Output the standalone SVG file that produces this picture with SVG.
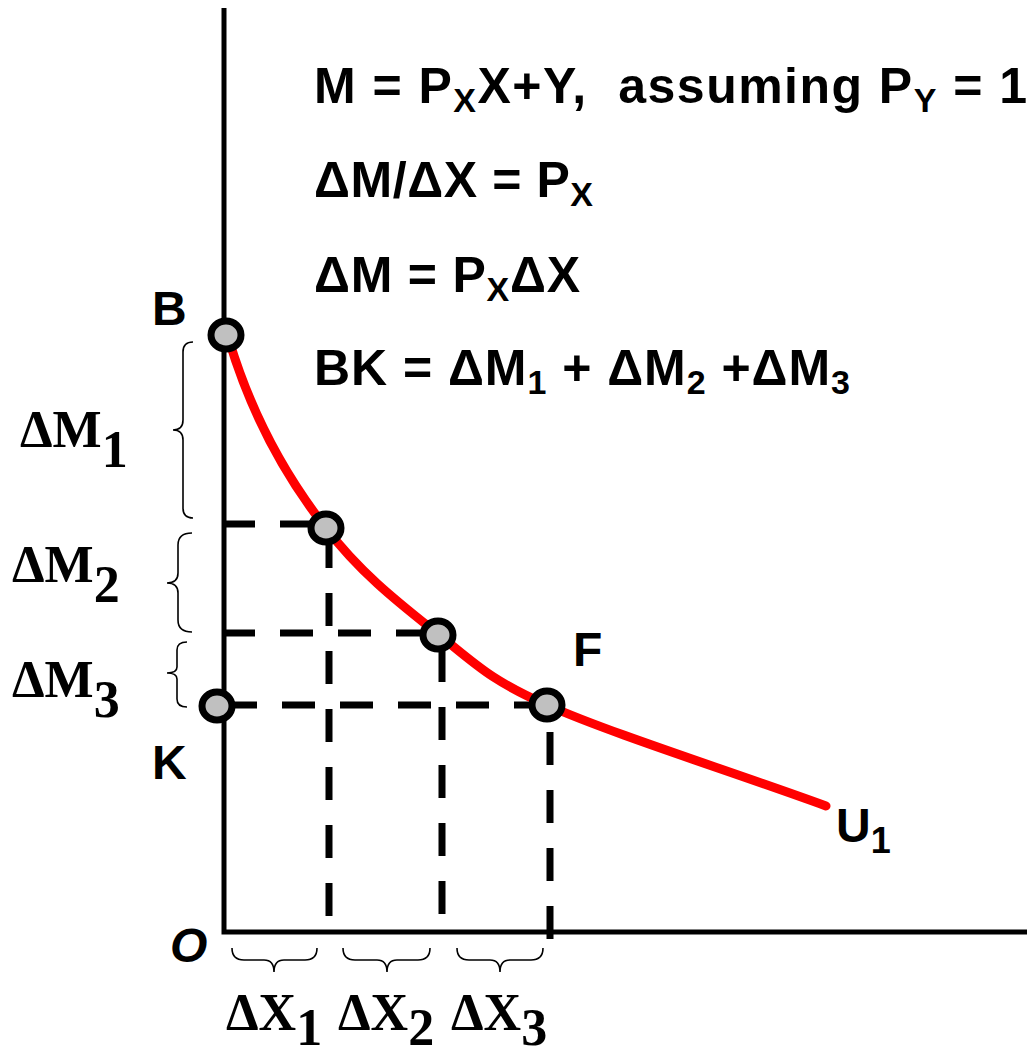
<svg xmlns="http://www.w3.org/2000/svg" width="1027" height="1053" viewBox="0 0 1027 1053">
<style>
.eq{font-family:"Liberation Sans Narrow","Arial Narrow","Liberation Sans",sans-serif;font-weight:bold;font-size:50px;fill:#000;white-space:pre}
.lbl{font-family:"Liberation Sans",Arial,sans-serif;font-weight:bold;font-size:48px;fill:#000}
.tm{font-family:"Liberation Serif","Times New Roman",serif;font-weight:bold;font-size:52px;fill:#000}
.axis{stroke:#000;stroke-width:5;fill:none}
.dash{stroke:#000;stroke-width:7;fill:none;stroke-dasharray:33 25}
.brace{stroke:#000;stroke-width:1.6;fill:none}
.pt{fill:#c0c0c0;stroke:#000;stroke-width:7}
.curve{stroke:#ff0000;stroke-width:9;fill:none;stroke-linecap:round}
</style>
<rect width="1027" height="1053" fill="#fff"/>
<g id="axes">
<path class="axis" d="M224,8 V932 H1027"/>
</g>
<g id="connectors">
<path class="dash" d="M222,524 H326"/>
<path class="dash" d="M222,633 H438"/>
<path class="dash" d="M224,705 H547"/>
<path class="dash" d="M329,535 V930"/>
<path class="dash" d="M442,649 V930"/>
<path class="dash" d="M550,732 V942"/>
</g>
<g id="curve-U1">
<path class="curve" d="M229,340 C247,400 278,467 326,528 C361,574 401,604.5 438,634 C475,663.5 490,680 547,705 C611.7,733.7 733,772 826,806"/>
</g>
<g id="braces">
<path class="brace" d="M193,342 Q183,342 183,352 L183,420 Q183,430 173,430 Q183,430 183,440 L183,508 Q183,518 193,518"/>
<path class="brace" d="M192,533 Q178,533 178,545 L178,573 Q178,583 167,583 Q178,583 178,593 L178,620 Q178,632 192,632"/>
<path class="brace" d="M187,642 Q177,642 177,650 L177,667 Q177,673 167,673 Q177,673 177,679 L177,699 Q177,707 187,707"/>
<path class="brace" d="M232,948 Q232,960 244,960 L264,960 Q274,960 274,972 Q274,960 284,960 L305,960 Q317,960 317,948"/>
<path class="brace" d="M343,948 Q343,960 355,960 L377,960 Q387,960 387,972 Q387,960 397,960 L418,960 Q430,960 430,948"/>
<path class="brace" d="M457,948 Q457,960 469,960 L490,960 Q500,960 500,972 Q500,960 510,960 L531,960 Q543,960 543,948"/>
</g>
<g id="node-B"><ellipse class="pt" cx="226" cy="335" rx="15" ry="14"/><text class="lbl" x="152" y="325">B</text></g>
<g id="node-2"><ellipse class="pt" cx="326" cy="528" rx="15" ry="14"/></g>
<g id="node-3"><ellipse class="pt" cx="438" cy="635" rx="15" ry="14"/></g>
<g id="node-F"><ellipse class="pt" cx="547" cy="705" rx="15" ry="14"/><text class="lbl" x="573" y="666">F</text></g>
<g id="node-K"><ellipse class="pt" cx="217" cy="706" rx="15" ry="14"/><text class="lbl" x="152" y="779">K</text></g>
<g id="label-O"><text class="lbl" x="170" y="962" font-style="italic">O</text></g>
<g id="label-U1"><text class="lbl" x="836" y="842" font-size="52">U<tspan font-size="36" dy="11">1</tspan></text></g>
<g id="equations">
<text class="eq" x="314" y="103" textLength="713">M = P<tspan font-size="34" dy="9">X</tspan><tspan dy="-9">X+Y,  assuming P</tspan><tspan font-size="34" dy="9">Y</tspan><tspan dy="-9"> = 1</tspan></text>
<text class="eq" x="314" y="197" textLength="279">ΔM/ΔX = P<tspan font-size="34" dy="9">X</tspan></text>
<text class="eq" x="314" y="292" textLength="266">ΔM = P<tspan font-size="34" dy="9">X</tspan><tspan dy="-9">ΔX</tspan></text>
<text class="eq" x="314" y="385" textLength="536">BK = ΔM<tspan font-size="34" dy="9">1</tspan><tspan dy="-9"> + ΔM</tspan><tspan font-size="34" dy="9">2</tspan><tspan dy="-9"> +ΔM</tspan><tspan font-size="34" dy="9">3</tspan></text>
</g>
<g id="labels-M">
<text class="tm" x="20" y="447">ΔM<tspan dy="20">1</tspan></text>
<text class="tm" x="12" y="582">ΔM<tspan dy="20">2</tspan></text>
<text class="tm" x="12" y="697">ΔM<tspan dy="20">3</tspan></text>
</g>
<g id="labels-X">
<text class="tm" x="226" y="1030">ΔX<tspan dy="15">1</tspan></text>
<text class="tm" x="338" y="1030">ΔX<tspan dy="15">2</tspan></text>
<text class="tm" x="451" y="1030">ΔX<tspan dy="15">3</tspan></text>
</g>
</svg>
